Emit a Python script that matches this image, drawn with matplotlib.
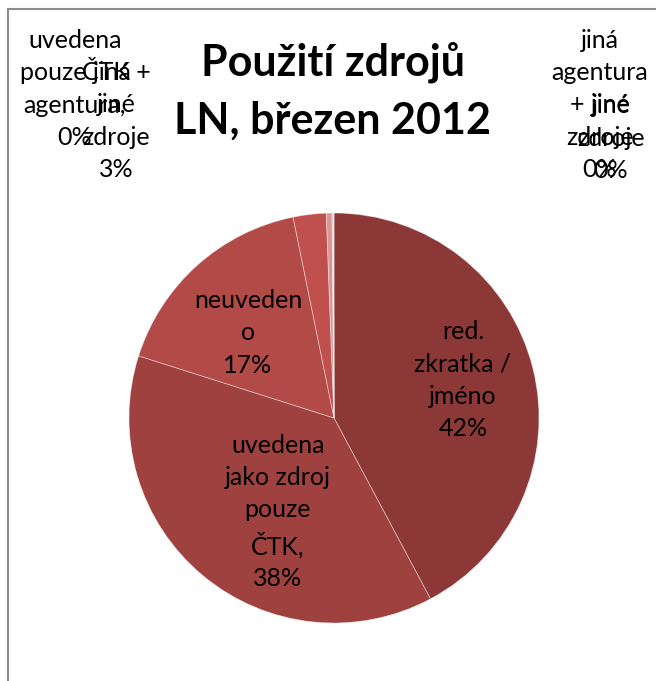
import matplotlib.pyplot as plt
from matplotlib.patches import Rectangle

plt.rcParams['font.family'] = ['Lato', 'DejaVu Sans']

# Data
labels = ['red.\nzkratka /\njméno', 'uvedena\njako zdroj\npouze\nČTK,', 'neuveden\no', 'ČTK +\njiné\nzdroje',
          'uvedena\npouze jiná\nagentura,', 'jiná\nagentura\n+ jiné\nzdroje', 'jiné\nzdroje']
values = [42.2, 37.7, 16.9, 2.6, 0.45, 0.1, 0.05]
colors = ['#8b3836', '#9e413f', '#b24a48', '#c0504d', '#d99694', '#e6b9b8', '#f2dcdb']

# label centres in figure pixels (from top-left)
label_pos = [(463, 380), (278, 512), (248, 333), (116, 121), (75, 89), (600, 105), (611, 138)]

W, H = 656, 681
fig = plt.figure(figsize=(W / 100, H / 100), dpi=100)

cx, cy, r = 334, 418, 205
ax = fig.add_axes([(cx - r) / W, (H - cy - r) / H, 2 * r / W, 2 * r / H])
ax.pie(values, colors=colors, startangle=90, counterclock=False, radius=1,
       wedgeprops=dict(edgecolor=(1, 1, 1, 0.45), linewidth=0.6))
ax.set_xlim(-1, 1)
ax.set_ylim(-1, 1)
ax.set_aspect('equal')
ax.axis('off')

for lab, v, (px, py) in zip(labels, values, label_pos):
    fig.text(px / W, 1 - py / H, f"{lab}\n{round(v)}%", ha='center', va='center',
             fontsize=18, linespacing=1.48, color='black')

fig.text(333 / W, 1 - 91 / H, 'Použití zdrojů\nLN, březen 2012', ha='center', va='center',
         fontsize=31, fontweight='bold', linespacing=1.55)

# chart frame (cut at right and bottom)
fig.patches.append(Rectangle((7.5 / W, -0.1), 1.2, 1 - 8.5 / H + 0.1, transform=fig.transFigure,
                             fill=False, edgecolor='#8c8c8c', linewidth=1.5))

fig.savefig('out.png', dpi=100)
